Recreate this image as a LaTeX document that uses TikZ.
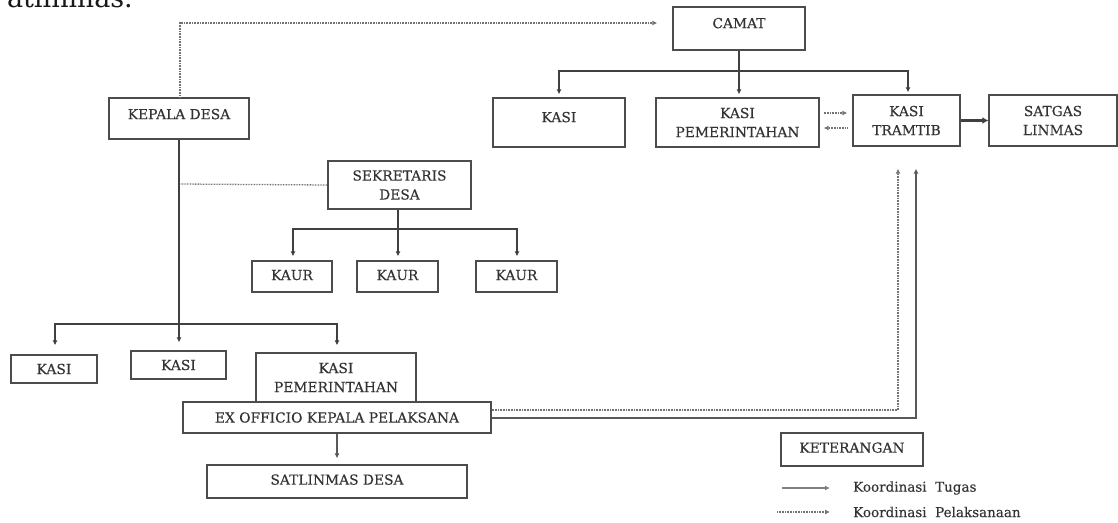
\documentclass[tikz,border=0pt]{standalone}
\usepackage{fontspec}
\setmainfont{DejaVu Serif}
\newfontfamily\boxfont[FakeBold=0.35]{DejaVu Serif}
\usetikzlibrary{arrows.meta}
\begin{document}
\begin{tikzpicture}[x=1pt,y=-1pt,
  box/.style={draw=black!70, line width=1.3pt, inner sep=0pt, align=center,
    font=\boxfont\fontsize{13.8}{19}\selectfont, text=black!80},
  solidln/.style={draw=black!75, line width=1.5pt},
  dotln/.style={draw=black!55, line width=1.3pt, dash pattern=on 0.8pt off 0.8pt},
  tip/.style={-{Latex[length=5pt,width=5pt]}},
  legtxt/.style={anchor=west, inner sep=0pt, font=\boxfont\fontsize{13.5}{15}\selectfont, text=black!80}
]
\useasboundingbox (0,0) rectangle (1118,522);

% heading fragment (cut off at top, as in the reference)
\node[anchor=base east, inner sep=0pt, font=\fontsize{27}{30}\selectfont, text=black!90] (hd) at (133,8) {atlinmas.};

% Kecamatan
\node[box, minimum width=132, minimum height=43, text depth=11pt] (camat) at (739,28.5) {CAMAT};
\node[box, minimum width=132, minimum height=49, text depth=11pt] (kasic) at (559,122.5) {KASI};
\node[box, minimum width=163, minimum height=49] (kasipemc) at (737.5,122.5) {KASI\\PEMERINTAHAN};
\node[box, minimum width=107, minimum height=51] (tramtib) at (906.5,120.5) {KASI\\TRAMTIB};
\node[box, minimum width=128, minimum height=51] (satgas) at (1053,120.5) {SATGAS\\LINMAS};

% Desa
\node[box, minimum width=140, minimum height=41, text depth=9pt] (kepala) at (179,118.5) {KEPALA DESA};
\node[box, minimum width=143, minimum height=48] (sekdes) at (399.5,185) {SEKRETARIS\\DESA};
\node[box, minimum width=80, minimum height=31, text depth=3pt] (kaur1) at (292,276.5) {KAUR};
\node[box, minimum width=81, minimum height=31, text depth=3pt] (kaur2) at (397.5,276.5) {KAUR};
\node[box, minimum width=81, minimum height=31, text depth=3pt] (kaur3) at (516.5,276.5) {KAUR};
\node[box, minimum width=86, minimum height=28] (kasid1) at (54,369) {KASI};
\node[box, minimum width=95, minimum height=28] (kasid2) at (178.5,365) {KASI};
\node[box, minimum width=160, minimum height=49] (kasipemd) at (336,377.5) {KASI\\PEMERINTAHAN};
\node[box, minimum width=308, minimum height=31] (exoff) at (337,417.5) {EX OFFICIO KEPALA PELAKSANA};
\node[box, minimum width=260, minimum height=33, text depth=4pt] (satlin) at (337,481.5) {SATLINMAS DESA};

% Legend
\node[box, minimum width=142, minimum height=33, text depth=4pt] (ket) at (852,449.5) {KETERANGAN};
\coordinate (l1a) at (782,488);
\coordinate (l1b) at (830,488);
\coordinate (l2a) at (777,512);
\coordinate (l2b) at (830,512);
\draw[draw=black!50, line width=1.1pt, tip] (l1a) -- (l1b);
\draw[dotln, tip] (l2a) -- (l2b);
\node[legtxt] (lt1) at (853,488) {Koordinasi\ \ Tugas};
\node[legtxt] (lt2) at (853,512) {Koordinasi\ \ Pelaksanaan};

% Camat connectors
\coordinate (cbar) at (739,71);
\draw[solidln, tip, shorten >=3pt] (camat.south) -- (camat.south |- kasipemc.north);
\draw[solidln, tip, shorten >=3pt] (cbar) -| (kasic.north);
\draw[solidln, tip, shorten >=2pt] (cbar) -| ([xshift=1.5pt]tramtib.north);
\draw[dotln, tip, shorten <=4pt, shorten >=5pt] ([yshift=9.5pt]kasipemc.east) -- ([yshift=9.5pt]kasipemc.east -| tramtib.west);
\draw[dotln, tip, shorten <=5pt, shorten >=4pt] ([yshift=-5.5pt]kasipemc.east -| tramtib.west) -- ([yshift=-5.5pt]kasipemc.east);
\draw[draw=black!75, line width=2.8pt, -{Latex[length=6pt,width=7pt]}] (tramtib.east) -- (satgas.west);

% Kepala Desa connectors
\coordinate (kc) at (180,23);
\draw[dotln, tip, shorten >=15pt] ([xshift=1pt]kepala.north) |- (camat.west |- kc);
\coordinate (kd) at (179,184);
\draw[dotln] (kd) -- (sekdes.west);
\draw[solidln, tip, shorten >=8pt] (kepala.south) -- ([xshift=0.5pt]kasid2.north);
\coordinate (kbar) at (179,324);
\draw[solidln, tip, shorten >=9pt] (kbar) -| ([xshift=1pt]kasid1.north);
\draw[solidln, tip, shorten >=7pt] (kbar) -| ([xshift=1pt]kasipemd.north);

% Sekretaris connectors
\coordinate (sbar) at (398,229);
\draw[solidln, tip, shorten >=4pt] ([xshift=-1.5pt]sekdes.south) -- ([xshift=0.5pt]kaur2.north);
\draw[solidln, tip, shorten >=4pt] (sbar) -| ([xshift=1pt]kaur1.north);
\draw[solidln, tip, shorten >=4pt] (sbar) -| ([xshift=0.5pt]kaur3.north);

% Ex officio connectors
\draw[draw=black!65, line width=1.2pt, tip, shorten >=6pt] (exoff.south) -- (satlin.north);
\draw[dotln, tip, shorten >=22pt] ([yshift=7.5pt]exoff.east) -| ([xshift=-8.5pt]tramtib.south);
\draw[solidln, draw=black!65, tip, shorten >=22pt] ([yshift=-0.5pt]exoff.east) -| ([xshift=9.5pt]tramtib.south);
\end{tikzpicture}
\end{document}
